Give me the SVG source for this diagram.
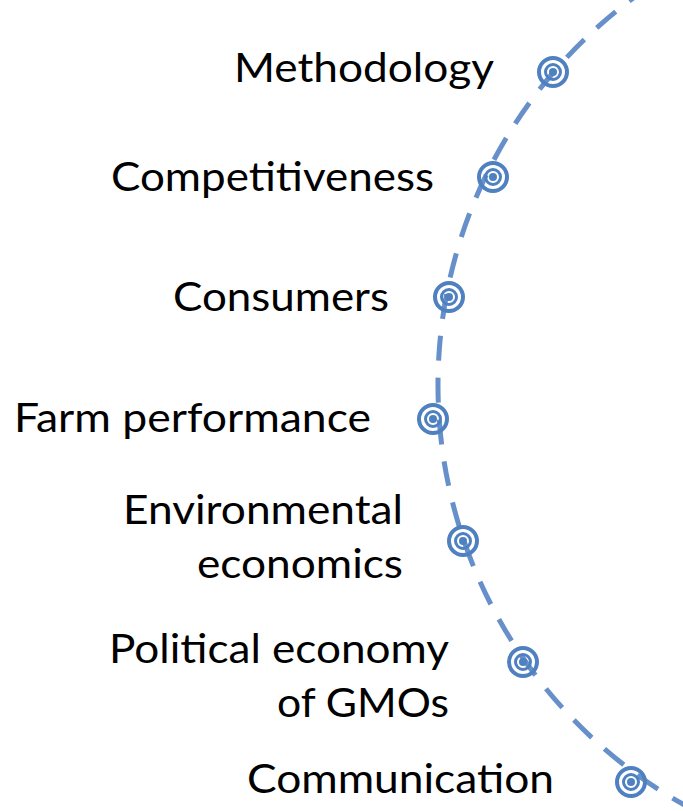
<svg xmlns="http://www.w3.org/2000/svg" xmlns:xlink="http://www.w3.org/1999/xlink" width="683" height="811" viewBox="0 0 683 811">
  <style>
    .lbl { font-family: Lato, "Liberation Sans", sans-serif; font-size: 41px; fill: #000; }
    .arc { fill: none; stroke: #6790cb; stroke-width: 5; stroke-dasharray: 25 17; stroke-dashoffset: 6; }
    .ring { fill: none; stroke: #4f80c0; }
  </style>
  <defs>
    <!-- target marker: outer ring, inner ring, centre dot -->
    <g id="target">
      <circle class="ring" r="14" stroke-width="4"/>
      <circle class="ring" r="7.5" stroke-width="3"/>
      <circle r="4" fill="#4f80c0"/>
    </g>
  </defs>
  <rect width="683" height="811" fill="#fff"/>

  <!-- dashed timeline arc -->
  <g id="connectors">
    <path class="arc" d="M644.5,-10 A481,481 0 0,0 736.4,830"/>
  </g>

  <g id="methodology">
    <use xlink:href="#target" x="553" y="72"/>
    <text class="lbl" x="234" y="82" textLength="260" lengthAdjust="spacingAndGlyphs">Methodology</text>
  </g>
  <g id="competitiveness">
    <use xlink:href="#target" x="493" y="177"/>
    <text class="lbl" x="111" y="191" textLength="323" lengthAdjust="spacingAndGlyphs">Competitiveness</text>
  </g>
  <g id="consumers">
    <use xlink:href="#target" x="449" y="297"/>
    <text class="lbl" x="173" y="311" textLength="216" lengthAdjust="spacingAndGlyphs">Consumers</text>
  </g>
  <g id="farm-performance">
    <use xlink:href="#target" x="433" y="419"/>
    <text class="lbl" x="14" y="432" textLength="357" lengthAdjust="spacingAndGlyphs">Farm performance</text>
  </g>
  <g id="environmental-economics">
    <use xlink:href="#target" x="463" y="541"/>
    <text class="lbl" x="123" y="524" textLength="280" lengthAdjust="spacingAndGlyphs">Environmental</text>
    <text class="lbl" x="197" y="578" textLength="206" lengthAdjust="spacingAndGlyphs">economics</text>
  </g>
  <g id="political-economy">
    <use xlink:href="#target" x="523" y="662"/>
    <text class="lbl" x="109" y="663" textLength="340" lengthAdjust="spacingAndGlyphs">Political economy</text>
    <text class="lbl" x="277" y="717" textLength="172" lengthAdjust="spacingAndGlyphs">of GMOs</text>
  </g>
  <g id="communication">
    <use xlink:href="#target" x="631" y="782"/>
    <text class="lbl" x="247" y="793" textLength="307" lengthAdjust="spacingAndGlyphs">Communication</text>
  </g>
</svg>
